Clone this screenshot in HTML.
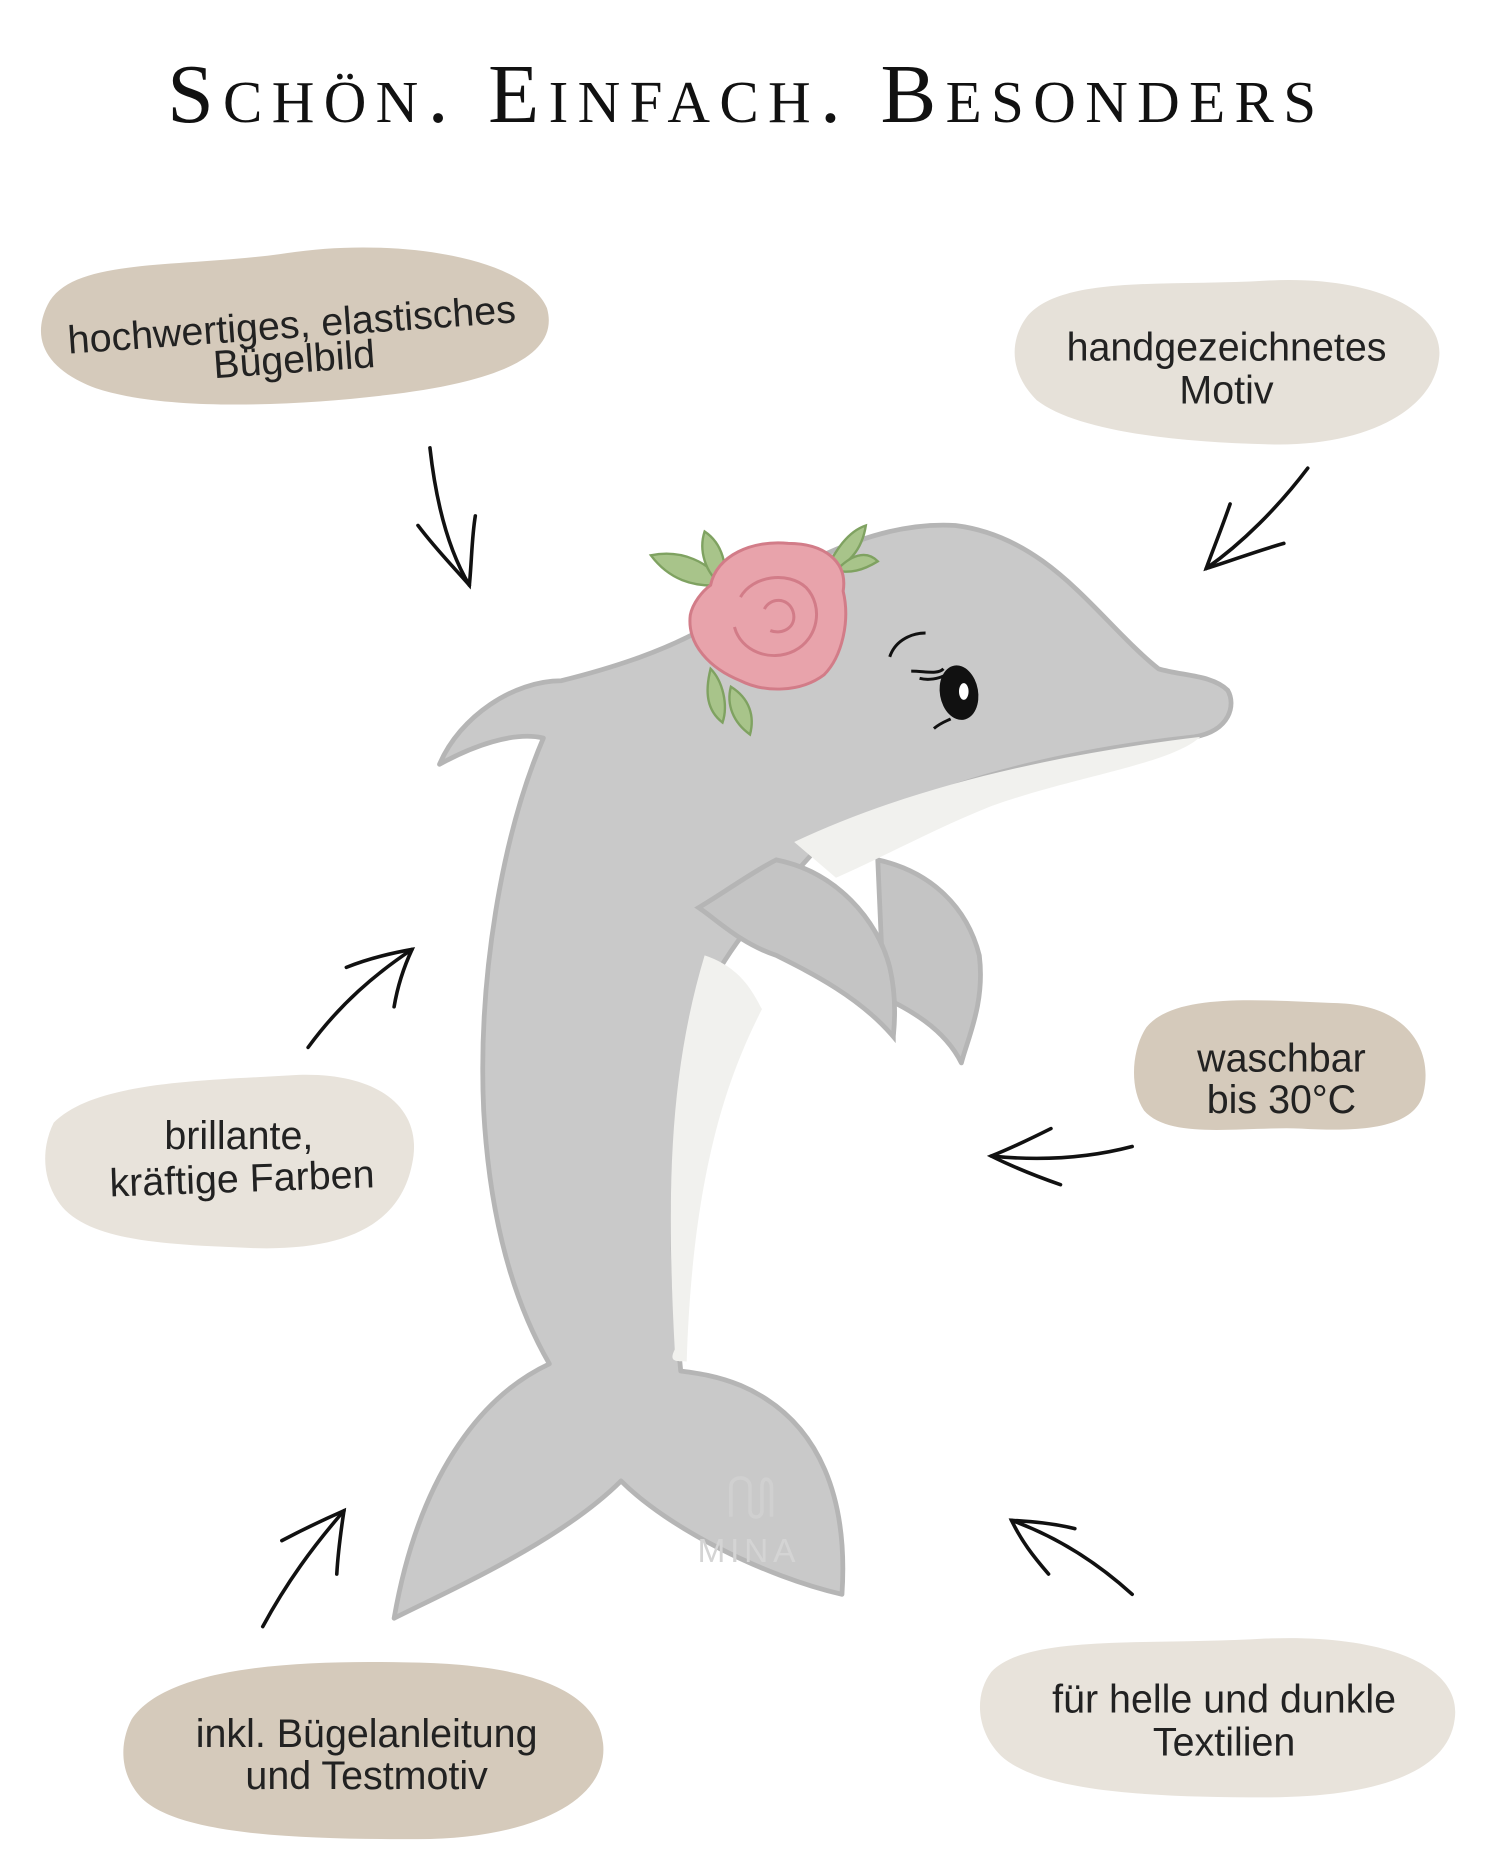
<!DOCTYPE html>
<html><head><meta charset="utf-8"><style>
html,body{margin:0;padding:0;background:#fff;}
svg{display:block;}
</style></head><body>
<svg width="1500" height="1875" viewBox="0 0 1256 1570" xmlns="http://www.w3.org/2000/svg">
<rect width="1256" height="1570" fill="#fff"/>
<text x="140" y="102" textLength="962" lengthAdjust="spacing" font-family="Liberation Serif, serif" font-size="70" fill="#111" style="font-variant:small-caps">Schön. Einfach. Besonders</text>

<!-- blobs -->
<path d="M40 255 C60 215 150 225 240 212 C330 198 440 215 458 258 C470 300 410 320 330 330 C250 340 140 345 80 325 C40 310 25 285 40 255Z" fill="#d5cabb"/>
<path d="M860 265 C890 230 980 240 1060 235 C1150 230 1210 260 1205 300 C1200 345 1140 375 1060 372 C980 370 900 360 868 335 C845 312 845 285 860 265Z" fill="#e6e1d9"/>
<path d="M45 940 C80 905 170 905 250 900 C320 898 355 930 345 975 C335 1025 290 1048 210 1045 C140 1042 70 1040 48 1005 C35 985 35 960 45 940Z" fill="#e8e3db"/>
<path d="M960 860 C985 830 1060 838 1120 840 C1180 842 1200 880 1192 915 C1185 945 1140 948 1090 945 C1040 943 980 955 958 930 C945 910 948 878 960 860Z" fill="#d5cabb"/>
<path d="M110 1440 C140 1395 250 1390 340 1392 C430 1393 500 1410 505 1460 C510 1510 440 1540 350 1540 C260 1540 150 1538 118 1505 C100 1485 100 1460 110 1440Z" fill="#d5cabb"/>
<path d="M830 1400 C860 1368 960 1378 1060 1372 C1160 1368 1225 1395 1218 1440 C1212 1485 1150 1505 1060 1505 C960 1505 870 1500 838 1470 C818 1450 815 1420 830 1400Z" fill="#e8e3db"/>

<g font-family="Liberation Sans, DejaVu Sans, sans-serif" font-size="33" fill="#222" text-anchor="middle">
<text x="245" y="283" transform="rotate(-4 245 283)">hochwertiges, elastisches</text>
<text x="247" y="312" transform="rotate(-4 247 312)">Bügelbild</text>
<text x="1027" y="302">handgezeichnetes</text>
<text x="1027" y="338">Motiv</text>
<text x="200" y="962">brillante,</text>
<text x="203" y="998" transform="rotate(-2 203 998)">kräftige Farben</text>
<text x="1073" y="897">waschbar</text>
<text x="1073" y="932">bis 30°C</text>
<text x="307" y="1463">inkl. Bügelanleitung</text>
<text x="307" y="1498">und Testmotiv</text>
<text x="1025" y="1434">für helle und dunkle</text>
<text x="1025" y="1470">Textilien</text>
</g>

<!-- arrows -->
<g stroke="#111" stroke-width="3" fill="none" stroke-linecap="round">
<path d="M360 375 C365 420 375 460 393 490"/><path d="M350 440 C365 460 380 475 393 490 C395 470 395 450 398 432"/>
<path d="M1095 392 C1070 425 1040 455 1010 476"/><path d="M1030 422 C1022 445 1015 462 1010 476 C1030 470 1050 462 1075 455"/>
<path d="M258 877 C285 840 315 815 345 795"/><path d="M290 810 C310 802 328 798 345 795 C338 810 333 825 330 843"/>
<path d="M948 960 C910 970 870 972 830 968"/><path d="M880 945 C860 955 845 962 830 968 C850 978 868 985 888 992"/>
<path d="M220 1362 C240 1325 262 1295 288 1265"/><path d="M236 1290 C255 1280 272 1272 288 1265 C285 1285 283 1300 282 1318"/>
<path d="M948 1335 C915 1305 880 1285 847 1273"/><path d="M900 1280 C880 1275 862 1274 847 1273 C855 1290 865 1303 878 1318"/>
</g>

<!-- dolphin -->
<g stroke="#b5b5b5" stroke-width="4" stroke-linejoin="round">
<path d="M735 720 C780 730 810 760 820 800 C825 840 810 870 805 890 C790 860 760 845 740 835 Z" fill="#c4c4c4"/>
<path d="M470 570 C430 570 385 600 368 640 C395 625 430 612 455 618 C420 700 400 820 405 930 C410 1020 430 1090 460 1142 C400 1170 350 1240 330 1355 C380 1330 470 1290 520 1240 C560 1280 640 1320 705 1335 C710 1260 690 1190 620 1160 C600 1152 585 1150 570 1148 C560 1050 560 950 580 860 C600 800 640 760 680 715 C760 660 880 630 1000 617 C1030 612 1035 590 1028 578 C1015 565 990 566 970 560 C920 520 880 450 800 440 C720 435 640 490 600 520 C560 545 510 560 470 570 Z" fill="#c9c9c9"/>
</g>
<path d="M665 705 C760 660 880 632 1005 617 C980 640 900 650 830 675 C780 695 735 720 700 735 Z" fill="#f1f1ee"/>
<path d="M590 800 C620 810 630 830 638 845 C610 900 580 980 575 1140 C565 1140 560 1140 565 1130 C558 1000 560 900 590 800 Z" fill="#f1f1ee"/>
<path d="M650 720 C700 730 735 770 745 810 C752 840 748 865 748 868 C720 835 680 815 650 800 C620 790 600 770 585 760 C610 745 630 730 650 720 Z" fill="#c4c4c4" stroke="#b5b5b5" stroke-width="4"/>
<ellipse cx="803" cy="580" rx="16" ry="23" fill="#111" transform="rotate(-10 803 580)"/>
<ellipse cx="807" cy="579" rx="4" ry="7" fill="#fff"/>
<path d="M745 550 C750 535 765 530 775 530 M763 562 C775 562 785 565 790 560 M770 568 C778 570 786 568 790 566 M782 610 C788 605 792 604 796 602" stroke="#111" stroke-width="2.5" fill="none"/>
<g fill="#a8c48a" stroke="#7fa261" stroke-width="2">
<path d="M545 465 C570 460 595 470 605 490 C580 492 560 485 545 465Z"/>
<path d="M590 445 C605 455 610 475 605 490 C590 480 585 460 590 445Z"/>
<path d="M690 480 C700 460 710 445 725 440 C722 460 710 475 690 480Z"/>
<path d="M700 478 C712 465 725 460 735 470 C722 478 712 480 700 478Z"/>
<path d="M595 560 C590 580 592 595 605 605 C610 590 605 570 595 560Z"/>
<path d="M612 575 C628 585 632 600 628 615 C614 605 608 590 612 575Z"/>
</g>
<path d="M595 490 C600 465 630 452 660 455 C690 455 710 470 706 495 C712 520 705 550 690 565 C670 580 640 580 620 570 C595 560 575 540 578 515 C580 505 588 495 595 490Z" fill="#e8a3ab" stroke="#d27c88" stroke-width="2.5"/>
<g fill="none" stroke="#d27c88" stroke-width="2.5">
<path d="M620 500 C630 482 660 478 675 492 C690 508 685 535 665 545 C645 555 620 545 615 525"/>
<path d="M640 510 C645 500 660 500 664 512 C668 525 655 532 645 528"/>
</g>
<g fill="none" stroke="#d0d0d0" stroke-width="3">
<path d="M612 1270 V1245 C612 1235 628 1235 628 1245 V1265 C628 1272 638 1272 638 1265 V1245 C638 1235 646 1238 646 1245 V1270"/>
</g>
<text x="627" y="1308" text-anchor="middle" font-family="Liberation Sans, sans-serif" font-size="28" letter-spacing="4" fill="#d4d4d4">MINA</text>
</svg>
</body></html>
